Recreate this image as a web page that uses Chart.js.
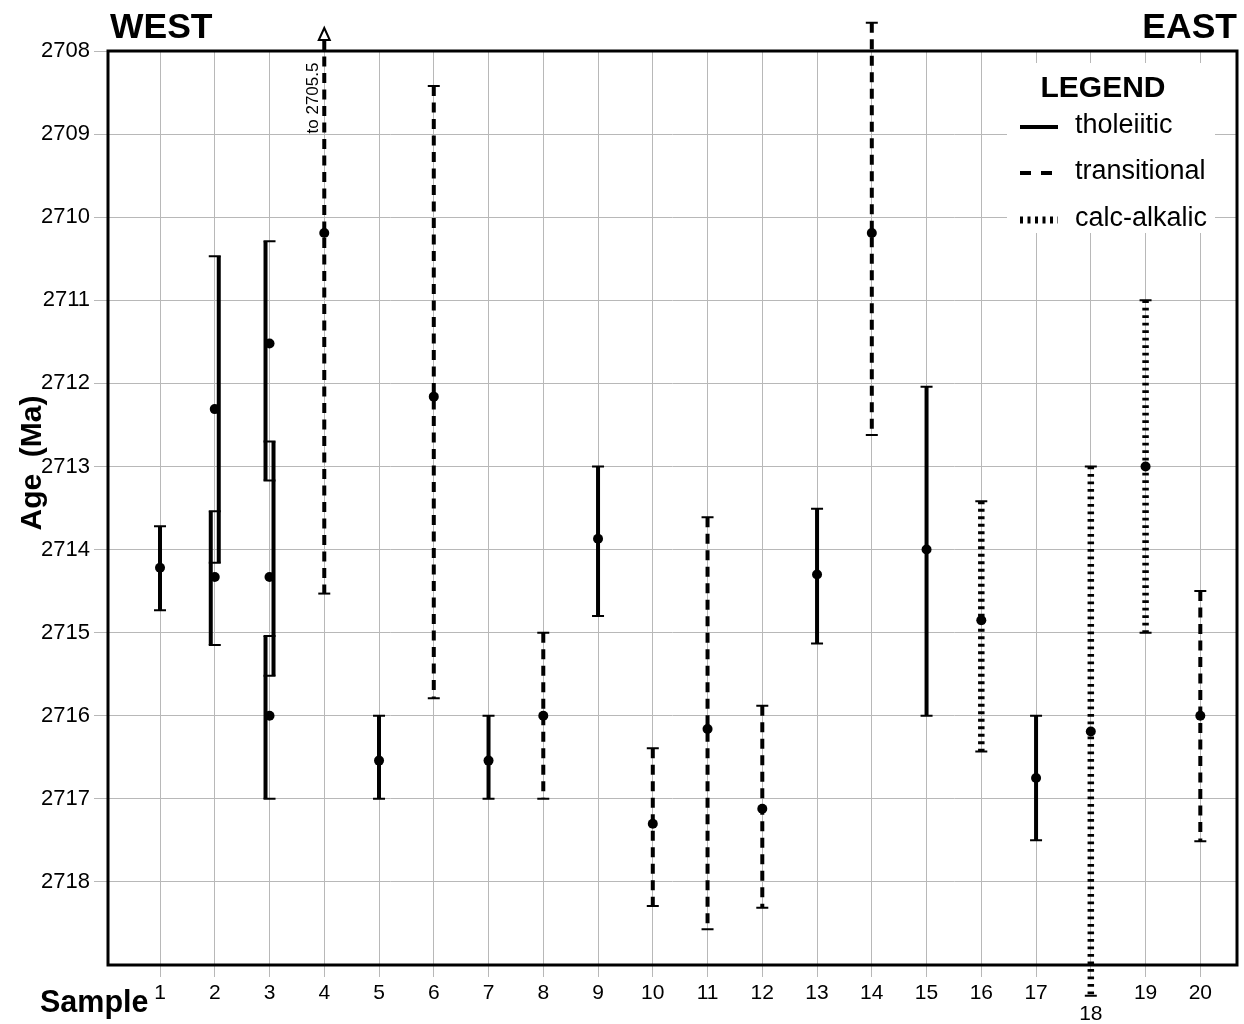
<!DOCTYPE html>
<html><head><meta charset="utf-8">
<script src="https://cdn.jsdelivr.net/npm/chart.js@4.4.1/dist/chart.umd.min.js"></script>
<style>html,body{margin:0;padding:0;background:#fff;} canvas{display:block;}</style>
</head><body>
<canvas id="c" width="1244" height="1024"></canvas>
<script>
// ---------- data ----------
const sampleTicks = [1,2,3,4,5,6,7,8,9,10,11,12,13,14,15,16,17,18,19,20];
const ageTicks = [2708,2709,2710,2711,2712,2713,2714,2715,2716,2717,2718];
const seriesNames = ['tholeiitic','transitional','calc-alkalic'];

const barSample = [1, 2, 2, 3, 3, 3, 4, 5, 6, 7, 8, 9, 10, 11, 12, 13, 14, 15, 16, 17, 18, 19, 20];
const barSide   = [0, 1,-1,-1, 1,-1, 0, 0, 0, 0, 0, 0, 0, 0, 0, 0, 0, 0, 0, 0, 0, 0, 0];
const barAge    = [2714.22,2712.31,2714.33,2711.52,2714.33,2716.00,2710.19,2716.54,2712.16,2716.54,2716.00,2713.87,2717.30,2716.16,2717.12,2714.30,2710.19,2714.00,2714.85,2716.75,2716.19,2713.00,2716.00];
const barYoung  = [2713.72,2710.47,2713.54,2710.29,2712.70,2715.04,2705.5,2716.00,2708.42,2716.00,2715.00,2713.00,2716.39,2713.61,2715.88,2713.51,2707.66,2712.04,2713.42,2716.00,2713.00,2711.00,2714.50];
const barOld    = [2714.73,2714.16,2715.15,2713.17,2715.52,2717.00,2714.53,2717.00,2715.79,2717.00,2717.00,2714.80,2718.29,2718.57,2718.31,2715.13,2712.62,2716.00,2716.43,2717.50,2719.37,2715.00,2717.51];
const barType   = ['tholeiitic','tholeiitic','tholeiitic','tholeiitic','tholeiitic','tholeiitic','transitional','tholeiitic','transitional','tholeiitic','transitional','tholeiitic','transitional','transitional','transitional','tholeiitic','transitional','tholeiitic','calc-alkalic','tholeiitic','calc-alkalic','calc-alkalic','transitional'];

// ---------- styles ----------
const FONT = "'Liberation Sans', Arial, Helvetica, sans-serif";
const GRID = '#b8b8b8';
const styles = {
  'tholeiitic':   {width: 4,   dash: []},
  'transitional': {width: 4,   dash: [10, 6.5]},
  'calc-alkalic': {width: 6.5, dash: [2.8, 4.7]}
};

const errorBars = {
  id: 'errorBars',
  beforeDatasetsDraw(chart) {
    const {ctx, chartArea: a, scales: {x, y}} = chart;
    ctx.save();
    // frame
    ctx.lineWidth = 3; ctx.strokeStyle = '#000'; ctx.setLineDash([]);
    ctx.strokeRect(a.left, a.top, a.right - a.left, a.bottom - a.top);
    for (let i = 0; i < barSample.length; i++) {
      const xc = x.getPixelForValue(barSample[i]);
      const xl = xc + barSide[i] * 4;
      const st = styles[barType[i]];
      const pTop = y.getPixelForValue(barYoung[i]);
      const off = pTop < a.top - 35;           // far off the scale: arrow instead of cap
      const yTop = off ? a.top - 11 : pTop;
      const yBot = y.getPixelForValue(barOld[i]);
      ctx.beginPath();
      ctx.setLineDash(st.dash); ctx.lineDashOffset = 0;
      ctx.lineWidth = st.width; ctx.lineCap = 'butt'; ctx.strokeStyle = '#000';
      ctx.moveTo(xl, yTop); ctx.lineTo(xl, yBot); ctx.stroke();
      ctx.setLineDash([]); ctx.lineWidth = 2;
      ctx.beginPath();
      if (!off) { ctx.moveTo(xc - 6, yTop); ctx.lineTo(xc + 6, yTop); }
      ctx.moveTo(xc - 6, yBot); ctx.lineTo(xc + 6, yBot);
      ctx.stroke();
      if (off) {
        ctx.beginPath();
        ctx.moveTo(xc, yTop - 12); ctx.lineTo(xc - 5.5, yTop); ctx.lineTo(xc + 5.5, yTop); ctx.closePath();
        ctx.fillStyle = '#fff'; ctx.fill(); ctx.lineWidth = 2; ctx.stroke();
        ctx.save();
        ctx.translate(xc - 6, a.top + 47);
        ctx.rotate(-Math.PI / 2);
        ctx.fillStyle = '#000'; ctx.font = '17px ' + FONT;
        ctx.textAlign = 'center'; ctx.textBaseline = 'alphabetic';
        ctx.fillText('to ' + barYoung[i], 0, 0);
        ctx.restore();
      }
    }
    ctx.restore();
  },
  afterDraw(chart) {
    const {ctx, chartArea: a} = chart;
    ctx.save();
    ctx.fillStyle = '#000';
    ctx.font = 'bold 35.5px ' + FONT; ctx.textBaseline = 'alphabetic';
    ctx.textAlign = 'left'; ctx.fillText('WEST', a.left + 2, 38);
    ctx.textAlign = 'right'; ctx.fillText('EAST', a.right, 38);
    // axis titles
    ctx.font = 'bold 30.5px ' + FONT; ctx.textAlign = 'left';
    ctx.fillText('Sample', 40, 1012);
    ctx.save();
    ctx.translate(41, 463); ctx.rotate(-Math.PI / 2);
    ctx.font = 'bold 30px ' + FONT; ctx.textAlign = 'center';
    ctx.fillText('Age  (Ma)', 0, 0);
    ctx.restore();
    // legend
    ctx.fillStyle = '#fff';
    ctx.fillRect(1007, 63, 208, 170);
    ctx.fillStyle = '#000';
    ctx.font = 'bold 30px ' + FONT; ctx.textAlign = 'center'; ctx.textBaseline = 'middle';
    ctx.fillText('LEGEND', 1103, 89);
    ctx.font = '27px ' + FONT; ctx.textAlign = 'left';
    const ys = [126, 172, 219];
    const legDash = [[], [11, 10], [3, 4.5]];
    const legW = [4, 4, 7];
    seriesNames.forEach((n, k) => {
      ctx.fillText(n, 1075, ys[k]);
      ctx.beginPath(); ctx.setLineDash(legDash[k]); ctx.lineWidth = legW[k];
      ctx.strokeStyle = '#000';
      ctx.moveTo(1020, ys[k] + 1); ctx.lineTo(1058, ys[k] + 1); ctx.stroke();
    });
    ctx.restore();
  }
};

new Chart(document.getElementById('c'), {
  type: 'scatter',
  data: {
    datasets: [{
      label: 'Age',
      data: barSample.map((s, i) => ({x: s, y: barAge[i]})),
      pointRadius: 5, pointHoverRadius: 5,
      backgroundColor: '#000', borderColor: '#000', borderWidth: 0
    }]
  },
  options: {
    responsive: false, animation: false, devicePixelRatio: 1,
    events: [],
    layout: {padding: {left: 0, right: 7, top: 51, bottom: 0}},
    plugins: {legend: {display: false}, tooltip: {enabled: false}, title: {display: false}},
    scales: {
      x: {
        type: 'linear', min: 0.05, max: 20.67,
        afterBuildTicks: s => { s.ticks = sampleTicks.map(v => ({value: v})); },
        afterFit: s => { s.height = 59; },
        border: {display: false},
        grid: {color: GRID, lineWidth: 1, tickLength: 12, drawTicks: true},
        ticks: {
          color: '#000', padding: 6, maxRotation: 0, autoSkip: false,
          font: {family: FONT, size: 21, lineHeight: 1.0},
          callback: v => (v === 18 ? ['', String(v)] : String(v))
        }
      },
      y: {
        type: 'linear', min: 2708, max: 2719, reverse: true,
        afterBuildTicks: s => { s.ticks = ageTicks.map(v => ({value: v})); },
        afterFit: s => { s.width = 108; },
        border: {display: false},
        grid: {color: GRID, lineWidth: 1, tickLength: 14, drawTicks: true},
        ticks: {color: '#000', padding: 4, font: {family: FONT, size: 22}, callback: v => String(v)}
      }
    }
  },
  plugins: [errorBars]
});
</script>
</body></html>
